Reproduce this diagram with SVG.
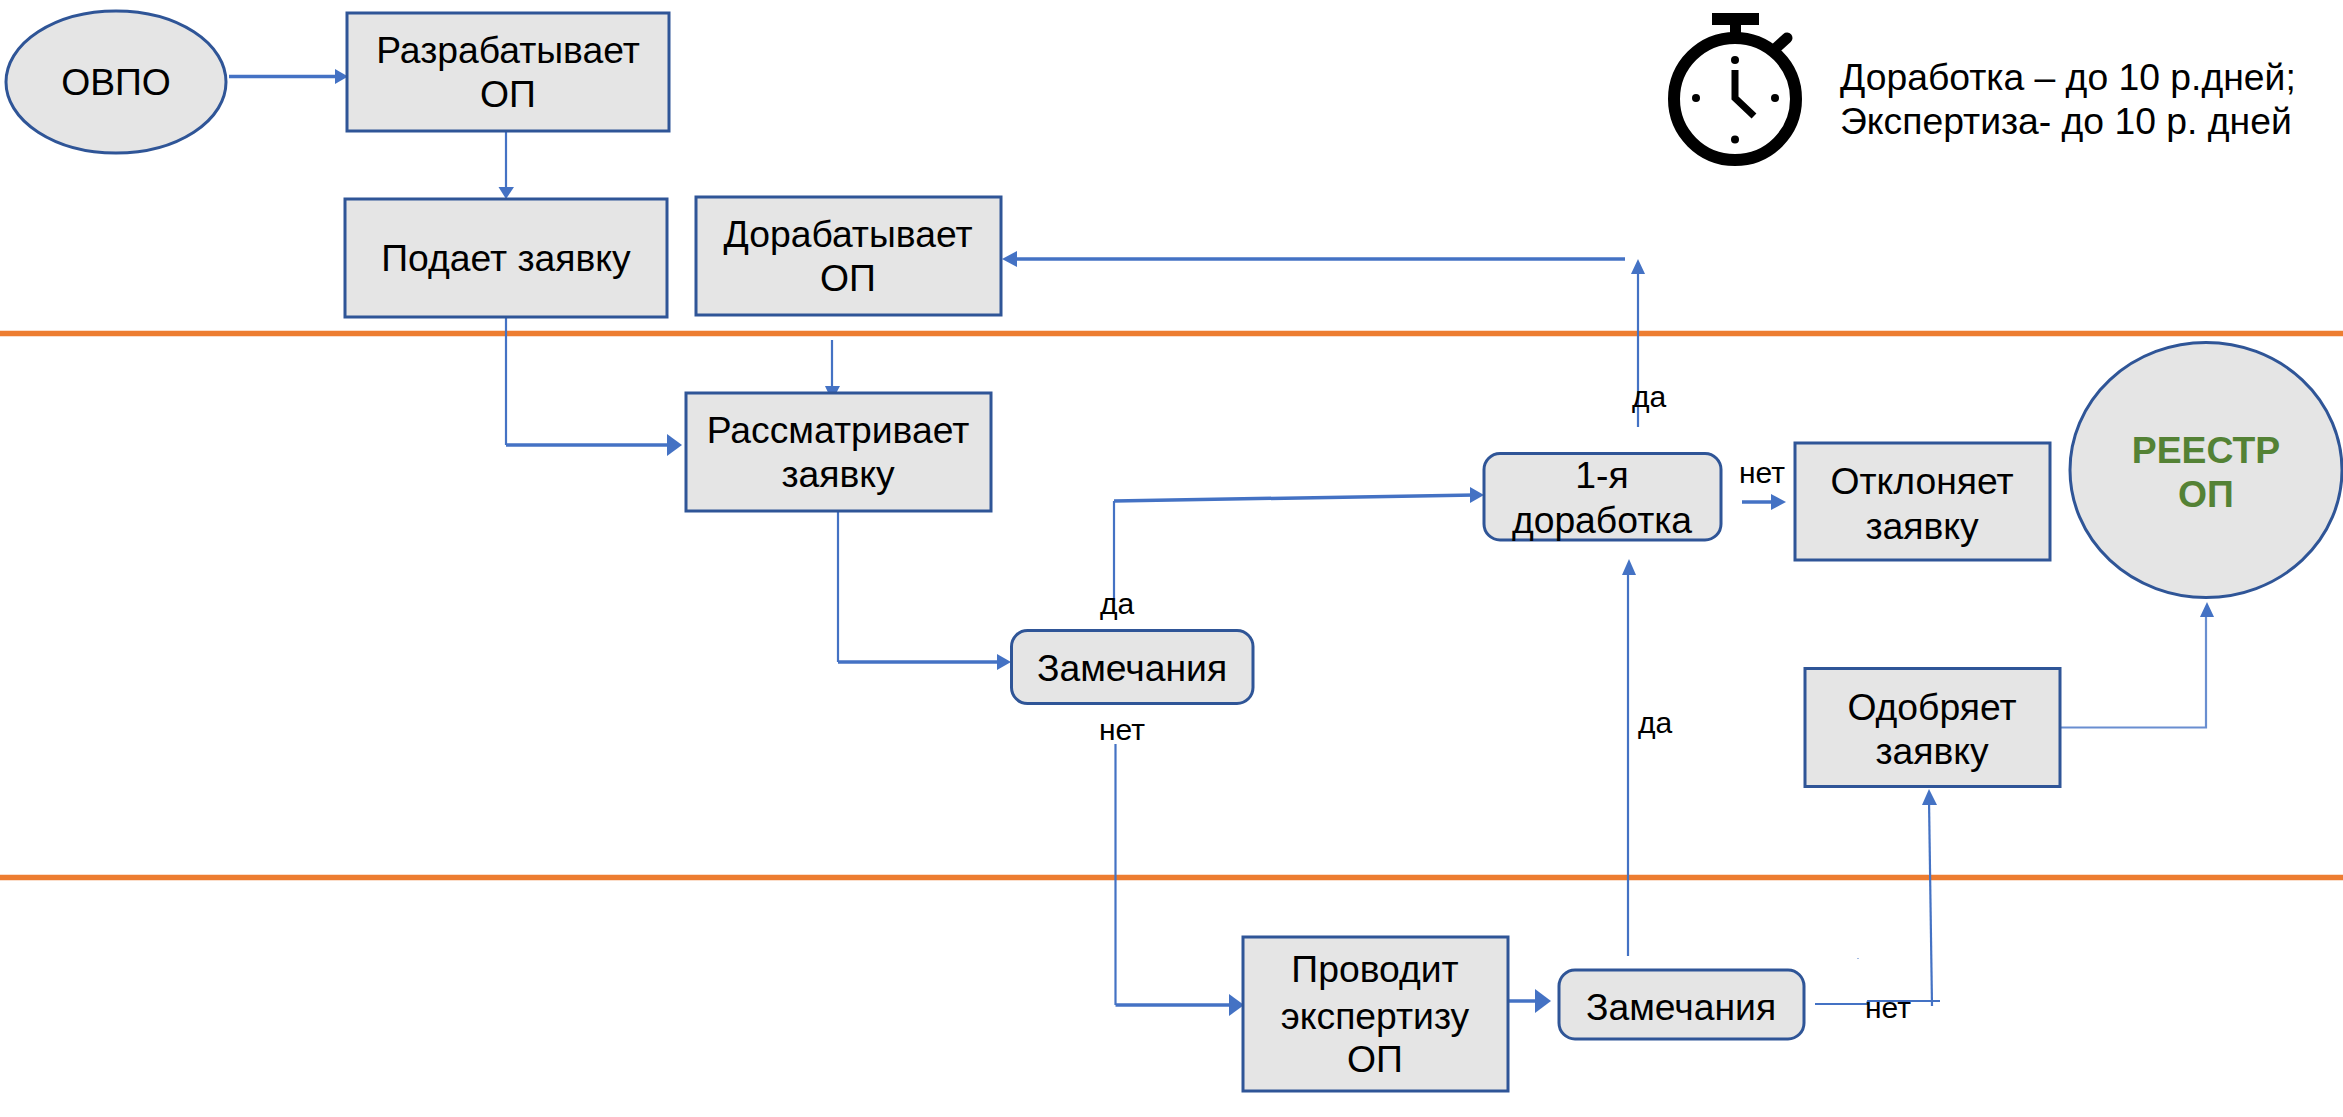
<svg xmlns="http://www.w3.org/2000/svg" width="2343" height="1117" viewBox="0 0 2343 1117">
<style>
text{font-family:"Liberation Sans",Arial,sans-serif;fill:#000;text-anchor:middle}
.t{font-size:37.300px}
.s{font-size:30px}
.n{fill:#e5e5e5;stroke:#2f5597;stroke-width:3}
.c{fill:none;stroke:#4472c4;stroke-width:3.500}
.f{fill:none;stroke:#4472c4;stroke-width:2.200}
.h{fill:#4472c4}
.o{stroke:#ed7d31;stroke-width:5.500}
.k{fill:none;stroke:#000;stroke-width:12}
</style>
<g id="swimlanes"><line class="o" x1="0" y1="333.500" x2="2343" y2="333.500"/><line class="o" x1="0" y1="877.500" x2="2343" y2="877.500"/></g>
<g id="connectors">
<path class="c" d="M229 76.500H340"/><path class="h" d="M335 69L348 76.500L335 84Z"/>
<path class="f" d="M506 128V190"/><path class="h" d="M498.500 187H514L506 199Z"/>
<path class="f" d="M506 317V445"/><path class="c" d="M506 445H672"/><path class="h" d="M667 434L682 445L667 456Z"/>
<path class="f" d="M832 340V392"/><path class="h" d="M825 386H840L832 401Z"/>
<path class="f" d="M838 511V662"/><path class="c" d="M838 662H1000"/><path class="h" d="M997 654L1011 662L997 670Z"/>
<path class="f" d="M1115.500 744V1005"/><path class="c" d="M1115.500 1005H1235"/><path class="h" d="M1229 994L1244 1005L1229 1016Z"/>
<path class="c" d="M1508 1001H1540"/><path class="h" d="M1535 989L1551 1001L1535 1013Z"/>
<path class="f" d="M1628 956V570"/><path class="h" d="M1622 575H1636L1629 559Z"/>
<path class="f" d="M1114 501V601"/><path class="c" d="M1114 501L1475 495"/><path class="h" d="M1470 487L1484 495L1470 503Z"/>
<path class="f" d="M1638 427V270"/><path class="h" d="M1631 274H1645L1638 259Z"/>
<path class="c" d="M1625 259H1012"/><path class="h" d="M1017 251L1002 259L1017 267Z"/>
<path class="c" d="M1742 502H1775"/><path class="h" d="M1771 494L1786 502L1771 510Z"/>
<path class="f" d="M1815 1004L1867 1004L1868 1001H1940"/><path class="f" d="M1932 1006L1929 800"/><path class="h" d="M1922 805H1937L1929 789Z"/>
<path class="f" d="M2060 727.500H2206V612" stroke-opacity=".8"/><path class="h" d="M2200 617H2214L2207 602Z"/>
<rect x="1857.500" y="958" width="1" height="1" fill="#4472c4"/>
</g>
<g id="ovpo"><ellipse class="n" cx="116" cy="82" rx="110" ry="71"/><text class="t" x="116" y="95">ОВПО</text></g>
<g id="develop"><rect class="n" x="347" y="13" width="322" height="118"/><text class="t" x="508" y="63">Разрабатывает</text><text class="t" x="508" y="107">ОП</text></g>
<g id="submit"><rect class="n" x="345" y="199" width="322" height="118"/><text class="t" x="506" y="271">Подает заявку</text></g>
<g id="rework"><rect class="n" x="696" y="197" width="305" height="118"/><text class="t" x="848" y="247">Дорабатывает</text><text class="t" x="848" y="291">ОП</text></g>
<g id="review"><rect class="n" x="686" y="393" width="305" height="118"/><text class="t" x="838" y="443">Рассматривает</text><text class="t" x="838" y="487">заявку</text></g>
<g id="remarks1"><rect class="n" x="1011.500" y="630.500" width="241.500" height="73" rx="16"/><text class="t" x="1132" y="681">Замечания</text></g>
<g id="expertise"><rect class="n" x="1243" y="937" width="265" height="154"/><text class="t" x="1375" y="982">Проводит</text><text class="t" x="1375" y="1029">экспертизу</text><text class="t" x="1375" y="1072">ОП</text></g>
<g id="remarks2"><rect class="n" x="1559" y="970" width="245" height="69" rx="16"/><text class="t" x="1681" y="1020">Замечания</text></g>
<g id="first-rework"><rect class="n" x="1484" y="453.500" width="237" height="86.500" rx="16"/><text class="t" x="1602" y="488">1-я</text><text class="t" x="1602" y="533">доработка</text></g>
<g id="reject"><rect class="n" x="1795" y="443" width="255" height="117"/><text class="t" x="1922" y="494">Отклоняет</text><text class="t" x="1922" y="539">заявку</text></g>
<g id="approve"><rect class="n" x="1805" y="668.500" width="255" height="118"/><text class="t" x="1932" y="720">Одобряет</text><text class="t" x="1932" y="764">заявку</text></g>
<g id="registry"><ellipse class="n" cx="2206" cy="470" rx="136" ry="127.500"/><text class="t" x="2206" y="463" font-weight="700" style="fill:#548235">РЕЕСТР</text><text class="t" x="2206" y="507" font-weight="700" style="fill:#548235">ОП</text></g>
<g id="labels">
<text class="s" x="1649" y="407">да</text><text class="s" x="1117" y="614">да</text><text class="s" x="1762" y="483">нет</text><text class="s" x="1122" y="740">нет</text><text class="s" x="1655" y="733">да</text><text class="s" x="1888" y="1018">нет</text>
</g>
<g id="timer">
<circle class="k" cx="1735" cy="99" r="61"/>
<rect x="1712" y="13" width="47" height="12"/><rect x="1730" y="25" width="11" height="12"/>
<path d="M1776 48L1787 38" fill="none" stroke="#000" stroke-width="11" stroke-linecap="round"/>
<circle cx="1735" cy="60" r="4"/><circle cx="1735" cy="139.500" r="4"/><circle cx="1696" cy="98" r="4"/><circle cx="1775" cy="98" r="4"/>
<path d="M1735 70V98L1754 116" fill="none" stroke="#000" stroke-width="7"/>
</g>
<g id="note"><text class="t" x="1840" y="90" style="text-anchor:start">Доработка – до 10 р.дней;</text><text class="t" x="1840" y="134" style="text-anchor:start">Экспертиза- до 10 р. дней</text></g>
</svg>
